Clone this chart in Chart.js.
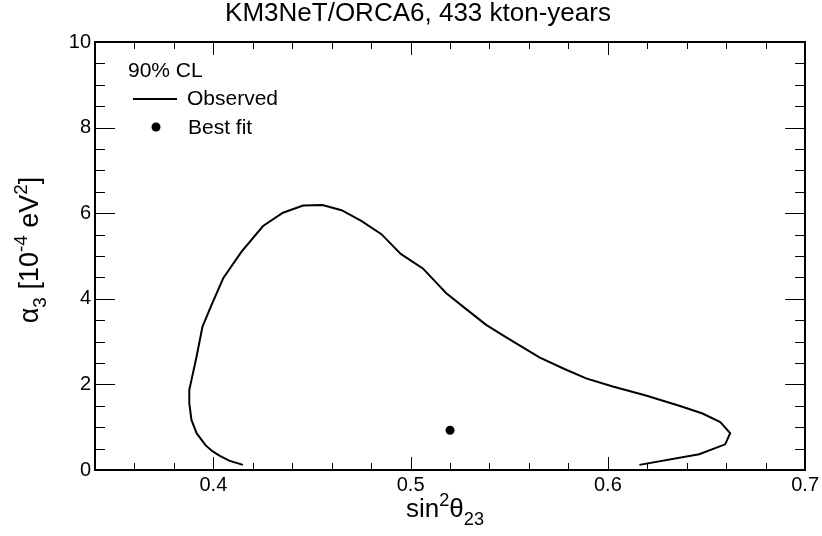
<!DOCTYPE html>
<html>
<head>
<meta charset="utf-8">
<script src="https://cdn.jsdelivr.net/npm/chart.js@4"></script>
<style>
html,body{margin:0;padding:0;background:#fff;}
#wrap{width:822px;height:536px;}
</style>
</head>
<body>
<div id="wrap"><canvas id="c" width="822" height="536"></canvas></div>
<script>
// ---- data ----
const titleText = 'KM3NeT/ORCA6, 433 kton-years';
const contourX = [0.4150,0.4080,0.4033,0.3995,0.3960,0.3915,0.3889,0.3878,0.3878,0.3889,0.3915,0.3945,0.3991,0.4050,0.4143,0.4252,0.4353,0.4455,0.4553,0.4650,0.4750,0.4852,0.4950,0.5062,0.5181,0.5290,0.5383,0.5485,0.5653,0.5780,0.5890,0.6025,0.6193,0.6362,0.6480,0.6570,0.6620,0.6595,0.6463,0.6160];
const contourY = [0.12,0.22,0.33,0.44,0.58,0.86,1.17,1.56,1.87,2.10,2.65,3.35,3.86,4.48,5.10,5.70,6.01,6.18,6.19,6.07,5.82,5.51,5.05,4.71,4.13,3.73,3.39,3.10,2.63,2.36,2.14,1.95,1.74,1.50,1.32,1.12,0.86,0.60,0.37,0.12];
const bestFitX = [0.52];
const bestFitY = [0.93];
const xTickValues = [0.4,0.5,0.6,0.7];
const xTickLabels = ['0.4','0.5','0.6','0.7'];
const xMinorValues = [0.36,0.38,0.42,0.44,0.46,0.48,0.52,0.54,0.56,0.58,0.62,0.64,0.66,0.68];
const yTickValues = [0,2,4,6,8,10];
const yTickLabels = ['0','2','4','6','8','10'];
const yMinorValues = [0.5,1,1.5,2.5,3,3.5,4.5,5,5.5,6.5,7,7.5,8.5,9,9.5];
const legendHeader = '90% CL';
const legendLabels = ['Observed','Best fit'];
const xTitleParts = [['sin',1,0],['2',0.7,-0.42],['\u03b8',1,0],['23',0.7,0.3]];
const yTitleParts = [['\u03b1',1,0],['3',0.7,0.3],[' [10',1,0],['-4',0.7,-0.42],[' eV',1,0],['2',0.7,-0.42],[']',1,0]];

const FONT = '"Liberation Sans", Arial, Helvetica, sans-serif';

function drawRich(ctx, parts, cx, baseY, size){
  let w = 0;
  parts.forEach(p=>{ctx.font = (size*p[1])+'px '+FONT; w += ctx.measureText(p[0]).width;});
  let x = cx - w/2;
  ctx.textAlign='left'; ctx.textBaseline='alphabetic';
  parts.forEach(p=>{
    ctx.font = (size*p[1])+'px '+FONT;
    ctx.fillText(p[0], x, baseY + p[2]*size);
    x += ctx.measureText(p[0]).width;
  });
}

const decor = {
  id:'decor',
  beforeDatasetsDraw(chart){
    const {ctx, chartArea:a, scales:{x,y}} = chart;
    ctx.save();
    ctx.strokeStyle='#000'; ctx.lineWidth=1;
    const seg=(x1,y1,x2,y2)=>{ctx.beginPath();ctx.moveTo(x1,y1);ctx.lineTo(x2,y2);ctx.stroke();};
    xTickValues.forEach(v=>{const p=Math.round(x.getPixelForValue(v))+0.5; seg(p,a.bottom,p,a.bottom-13); seg(p,a.top,p,a.top+13);});
    xMinorValues.forEach(v=>{const p=Math.round(x.getPixelForValue(v))+0.5; seg(p,a.bottom,p,a.bottom-7); seg(p,a.top,p,a.top+7);});
    yTickValues.forEach(v=>{const p=Math.round(y.getPixelForValue(v))+0.5; seg(a.left,p,a.left+20,p); seg(a.right,p,a.right-20,p);});
    yMinorValues.forEach(v=>{const p=Math.round(y.getPixelForValue(v))+0.5; seg(a.left,p,a.left+10,p); seg(a.right,p,a.right-10,p);});
    ctx.restore();
  },
  afterDraw(chart){
    const {ctx} = chart;
    ctx.save();
    ctx.fillStyle='#000';
    ctx.font='26px '+FONT; ctx.textAlign='center'; ctx.textBaseline='alphabetic';
    ctx.fillText(titleText, 418, 21);
    drawRich(ctx, xTitleParts, 445, 517, 26);
    ctx.save();
    ctx.translate(38, 250); ctx.rotate(-Math.PI/2);
    drawRich(ctx, yTitleParts, 0, 0, 27);
    ctx.restore();
    ctx.font='21px '+FONT; ctx.textAlign='left'; ctx.textBaseline='alphabetic';
    ctx.fillText(legendHeader, 128, 77);
    ctx.strokeStyle='#000'; ctx.lineWidth=2;
    ctx.beginPath(); ctx.moveTo(133,99); ctx.lineTo(177,99); ctx.stroke();
    ctx.fillText(legendLabels[0], 187, 105);
    ctx.beginPath(); ctx.arc(156,127,4.5,0,Math.PI*2); ctx.fill();
    ctx.fillText(legendLabels[1], 188, 134);
    ctx.restore();
  }
};

const gridOpts = {display:true, drawOnChartArea:false, drawTicks:false};
const borderOpts = {display:true, color:'#000', width:2};

new Chart(document.getElementById('c').getContext('2d'), {
  type:'scatter',
  data:{datasets:[
    {label:legendLabels[0], data:contourX.map((v,i)=>({x:v,y:contourY[i]})), showLine:true, borderColor:'#000', borderWidth:2, pointRadius:0, pointHoverRadius:0, fill:false, tension:0},
    {label:legendLabels[1], data:bestFitX.map((v,i)=>({x:v,y:bestFitY[i]})), showLine:false, pointRadius:4.5, pointHoverRadius:4.5, backgroundColor:'#000', borderColor:'#000', borderWidth:0}
  ]},
  options:{
    responsive:false, animation:false, devicePixelRatio:1,
    layout:{padding:{top:42,right:16,left:0,bottom:0}},
    plugins:{legend:{display:false}, title:{display:false}, tooltip:{enabled:false}},
    events:[],
    scales:{
      x:{type:'linear', position:'bottom', min:0.34, max:0.7,
        afterBuildTicks:s=>{s.ticks = xTickValues.map(v=>({value:v}));},
        ticks:{callback:(v,i)=>xTickLabels[i], color:'#000', font:{family:FONT, size:20}, padding:3, maxRotation:0, autoSkip:false},
        grid:gridOpts, border:borderOpts,
        afterFit:s=>{s.height=66;}},
      y:{type:'linear', position:'left', min:0, max:10,
        afterBuildTicks:s=>{s.ticks = yTickValues.map(v=>({value:v}));},
        ticks:{callback:(v,i)=>yTickLabels[i], color:'#000', font:{family:FONT, size:20}, padding:4, autoSkip:false},
        grid:gridOpts, border:borderOpts,
        afterFit:s=>{s.width=95;}},
      x2:{type:'linear', position:'top', min:0.34, max:0.7, ticks:{display:false}, grid:gridOpts, border:borderOpts, afterFit:s=>{s.height=0;}},
      y2:{type:'linear', position:'right', min:0, max:10, ticks:{display:false}, grid:gridOpts, border:borderOpts, afterFit:s=>{s.width=0;}}
    }
  },
  plugins:[decor]
});
</script>
</body>
</html>
